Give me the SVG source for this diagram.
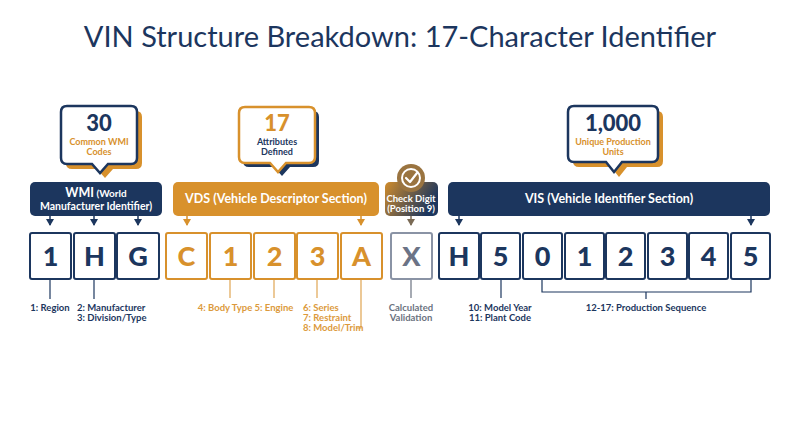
<svg xmlns="http://www.w3.org/2000/svg" width="800" height="447" viewBox="0 0 800 447">
<defs>
<style>
.t{font-family:Lato,"Open Sans","Liberation Sans",sans-serif}
.title{font-size:29px;fill:#1c365e;text-anchor:middle}
.big{font-size:22px;font-weight:900;text-anchor:middle}
.sm{font-size:9px;font-weight:700;text-anchor:middle}
.hdr{fill:#ffffff;font-weight:700;text-anchor:middle}
.ch{font-size:27px;font-weight:900;text-anchor:middle}
.lbl{font-size:9.5px;font-weight:700}
.nv{fill:#1c365e}.or{fill:#d8912c}.gr{fill:#6b7280}
.bn{fill:#ffffff;stroke:#1c365e;stroke-width:2}
.bo{fill:#ffffff;stroke:#d8912c;stroke-width:2}
.bg{fill:#ffffff;stroke:#8a93a5;stroke-width:2}
.ln{fill:none;stroke-width:1.2}
</style>
<marker id="an" markerWidth="8" markerHeight="7" refX="4" refY="6" orient="0" markerUnits="userSpaceOnUse"><path d="M0,0 L8,0 L4,7 Z" fill="#1c365e"/></marker>
<marker id="ao" markerWidth="8" markerHeight="7" refX="4" refY="6" orient="0" markerUnits="userSpaceOnUse"><path d="M0,0 L8,0 L4,7 Z" fill="#d8912c"/></marker>
<marker id="ab" markerWidth="8" markerHeight="7" refX="4" refY="6" orient="0" markerUnits="userSpaceOnUse"><path d="M0,0 L8,0 L4,7 Z" fill="#7a6a55"/></marker>
<linearGradient id="cg" x1="0" y1="0" x2="1" y2="0.4">
<stop offset="0" stop-color="#d08c2c"/>
<stop offset="1" stop-color="#1c365e"/>
</linearGradient>
</defs>
<rect width="800" height="447" fill="#ffffff"/>
<text class="t title" x="400" y="47">VIN Structure Breakdown: 17-Character Identifier</text>

<g id="callout-wmi">
<path d="M67,106 H131 Q137,106 137,112 V158 Q137,164 131,164 H108 L100,173 L92,164 H67 Q61,164 61,158 V112 Q61,106 67,106 Z" transform="translate(5,5)" fill="#d8912c"/>
<path d="M67,106 H131 Q137,106 137,112 V158 Q137,164 131,164 H108 L100,173 L92,164 H67 Q61,164 61,158 V112 Q61,106 67,106 Z" fill="#ffffff" stroke="#1c365e" stroke-width="2.5"/>
<text class="t big nv" x="99" y="131">30</text>
<text class="t sm or" x="99" y="145">Common WMI</text>
<text class="t sm or" x="99" y="155">Codes</text>
</g>
<g id="callout-vds">
<path d="M245,107 H309 Q315,107 315,113 V157 Q315,163 309,163 H286 L278,172 L270,163 H245 Q239,163 239,157 V113 Q239,107 245,107 Z" transform="translate(4,4)" fill="#1c365e"/>
<path d="M245,107 H309 Q315,107 315,113 V157 Q315,163 309,163 H286 L278,172 L270,163 H245 Q239,163 239,157 V113 Q239,107 245,107 Z" fill="#ffffff" stroke="#d8912c" stroke-width="2.5"/>
<text class="t big or" x="277" y="131">17</text>
<text class="t sm nv" x="277" y="145">Attributes</text>
<text class="t sm nv" x="277" y="155">Defined</text>
</g>
<g id="callout-vis">
<path d="M574,106 H652 Q658,106 658,112 V156 Q658,162 652,162 H622 L614,172 L606,162 H574 Q568,162 568,156 V112 Q568,106 574,106 Z" transform="translate(5,5)" fill="#d8912c"/>
<path d="M574,106 H652 Q658,106 658,112 V156 Q658,162 652,162 H622 L614,172 L606,162 H574 Q568,162 568,156 V112 Q568,106 574,106 Z" fill="#ffffff" stroke="#1c365e" stroke-width="2.5"/>
<text class="t big nv" x="613" y="131">1,000</text>
<text class="t sm or" x="613" y="145">Unique Production</text>
<text class="t sm or" x="613" y="155">Units</text>
</g>

<g id="hdr-wmi">
<rect x="30" y="182" width="132" height="34" rx="5" fill="#1c365e"/>
<text class="t hdr" x="96" y="197"><tspan font-size="12.5">WMI</tspan><tspan font-size="10"> (World</tspan></text>
<text class="t hdr" x="96" y="210" font-size="10.5">Manufacturer Identifier)</text>
</g>
<g id="hdr-vds">
<rect x="173" y="182" width="206" height="34" rx="5" fill="#d8912c"/>
<text class="t hdr" x="276" y="203" font-size="12.5">VDS (Vehicle Descriptor Section)</text>
</g>
<g id="hdr-check">
<rect x="385" y="182" width="53" height="34" rx="5" fill="url(#cg)"/>
<circle cx="411" cy="178" r="14" fill="#9a7440"/>
<circle cx="411" cy="178" r="9" fill="none" stroke="#ffffff" stroke-width="2"/>
<path d="M406,178 L410,182 L417,173" fill="none" stroke="#ffffff" stroke-width="2.2" stroke-linecap="round" stroke-linejoin="round"/>
<text class="t hdr" x="411" y="202" font-size="9.5">Check Digit</text>
<text class="t hdr" x="411" y="212" font-size="9.5">(Position 9)</text>
</g>
<g id="hdr-vis">
<rect x="448" y="182" width="322" height="34" rx="5" fill="#1c365e"/>
<text class="t hdr" x="609" y="203" font-size="12.5">VIS (Vehicle Identifier Section)</text>
</g>

<g id="connectors">
<g stroke="#1c365e" stroke-width="1.5">
<line x1="50" y1="216" x2="50" y2="225" marker-end="url(#an)"/>
<line x1="94" y1="216" x2="94" y2="225" marker-end="url(#an)"/>
<line x1="138" y1="216" x2="138" y2="225" marker-end="url(#an)"/>
<line x1="459" y1="216" x2="459" y2="225" marker-end="url(#an)"/>
<line x1="751" y1="216" x2="751" y2="225" marker-end="url(#an)"/>
</g>
<g stroke="#d8912c" stroke-width="1.5">
<line x1="187" y1="216" x2="187" y2="225" marker-end="url(#ao)"/>
<line x1="361" y1="216" x2="361" y2="225" marker-end="url(#ao)"/>
</g>
<line x1="411" y1="216" x2="411" y2="225" stroke="#7a6a55" stroke-width="1.5" marker-end="url(#ab)"/>
<g class="ln" stroke="#1c365e">
<line x1="50" y1="280" x2="50" y2="299"/>
<line x1="94" y1="280" x2="94" y2="299"/>
<line x1="501" y1="280" x2="501" y2="298"/>
<path d="M542,280 V292 H751 V280 M646,292 V299"/>
</g>
<g class="ln" stroke="#e0a552">
<line x1="230" y1="280" x2="230" y2="298"/>
<line x1="274" y1="280" x2="274" y2="298"/>
<line x1="317" y1="280" x2="317" y2="298"/>
<path d="M361,280 V328 H356"/>
</g>
<line class="ln" x1="411" y1="280" x2="411" y2="298" stroke="#6b7280"/>
</g>

<g id="chars">
<g id="c1"><rect class="bn" x="30" y="233" width="41" height="46" rx="2"/><text class="t ch nv" x="50.5" y="266">1</text></g>
<g id="c2"><rect class="bn" x="74" y="233" width="41" height="46" rx="2"/><text class="t ch nv" x="94.5" y="266">H</text></g>
<g id="c3"><rect class="bn" x="117" y="233" width="42" height="46" rx="2"/><text class="t ch nv" x="138" y="266">G</text></g>
<g id="c4"><rect class="bo" x="166" y="233" width="41" height="46" rx="2"/><text class="t ch or" x="186.5" y="266">C</text></g>
<g id="c5"><rect class="bo" x="210" y="233" width="41" height="46" rx="2"/><text class="t ch or" x="230.5" y="266">1</text></g>
<g id="c6"><rect class="bo" x="254" y="233" width="41" height="46" rx="2"/><text class="t ch or" x="274.5" y="266">2</text></g>
<g id="c7"><rect class="bo" x="297" y="233" width="41" height="46" rx="2"/><text class="t ch or" x="317.5" y="266">3</text></g>
<g id="c8"><rect class="bo" x="341" y="233" width="41" height="46" rx="2"/><text class="t ch or" x="361.5" y="266">A</text></g>
<g id="c9"><rect class="bg" x="391" y="233" width="41" height="46" rx="2"/><text class="t ch" x="411.5" y="266" fill="#6b7386">X</text></g>
<g id="c10"><rect class="bn" x="439" y="233" width="40" height="46" rx="2"/><text class="t ch nv" x="459" y="266">H</text></g>
<g id="c11"><rect class="bn" x="481" y="233" width="39" height="46" rx="2"/><text class="t ch nv" x="500.5" y="266">5</text></g>
<g id="c12"><rect class="bn" x="523" y="233" width="39" height="46" rx="2"/><text class="t ch nv" x="542.5" y="266">0</text></g>
<g id="c13"><rect class="bn" x="565" y="233" width="39" height="46" rx="2"/><text class="t ch nv" x="584.5" y="266">1</text></g>
<g id="c14"><rect class="bn" x="606" y="233" width="39" height="46" rx="2"/><text class="t ch nv" x="625.5" y="266">2</text></g>
<g id="c15"><rect class="bn" x="648" y="233" width="39" height="46" rx="2"/><text class="t ch nv" x="667.5" y="266">3</text></g>
<g id="c16"><rect class="bn" x="689" y="233" width="39" height="46" rx="2"/><text class="t ch nv" x="708.5" y="266">4</text></g>
<g id="c17"><rect class="bn" x="731" y="233" width="39" height="46" rx="2"/><text class="t ch nv" x="750.5" y="266">5</text></g>
</g>

<g id="labels">
<text class="t lbl nv" x="50" y="311" text-anchor="middle">1: Region</text>
<text class="t lbl nv" x="77" y="311">2: Manufacturer</text>
<text class="t lbl nv" x="77" y="321">3: Division/Type</text>
<text class="t lbl" x="225" y="311" text-anchor="middle" fill="#dc9a3c">4: Body Type</text>
<text class="t lbl" x="274" y="311" text-anchor="middle" fill="#dc9a3c">5: Engine</text>
<text class="t lbl" x="303" y="311" fill="#dc9a3c">6: Series</text>
<text class="t lbl" x="303" y="321" fill="#dc9a3c">7: Restraint</text>
<text class="t lbl" x="303" y="331" fill="#dc9a3c">8: Model/Trim</text>
<text class="t lbl gr" x="411" y="311" text-anchor="middle" font-weight="400">Calculated</text>
<text class="t lbl gr" x="411" y="321" text-anchor="middle" font-weight="400">Validation</text>
<text class="t lbl nv" x="500" y="311" text-anchor="middle">10: Model Year</text>
<text class="t lbl nv" x="500" y="321" text-anchor="middle">11: Plant Code</text>
<text class="t lbl nv" x="646" y="311" text-anchor="middle">12-17: Production Sequence</text>
</g>
</svg>
